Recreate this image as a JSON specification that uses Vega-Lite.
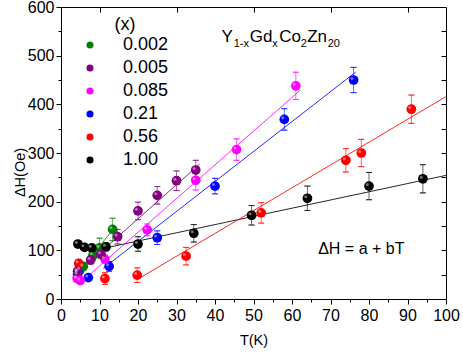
{
  "$schema": "https://vega.github.io/schema/vega-lite/v6.json",
  "width": 385,
  "height": 292,
  "autosize": "none",
  "padding": {"left": 61, "top": 7, "right": 17, "bottom": 57},
  "background": "white",
  "config": {
    "font": "Liberation Sans",
    "view": {"stroke": null},
    "axis": {"grid": false, "domainColor": "black", "tickColor": "black", "labelColor": "black", "titleColor": "black", "labelFont": "Liberation Sans", "titleFont": "Liberation Sans", "labelFontSize": 16, "titleFontSize": 14.5, "titleFontWeight": "normal", "domainWidth": 1, "tickWidth": 1, "labelFlush": false}
  },
  "datasets": {
    "pts": [
      {"x": "0.002", "T": 5.0, "H": 60, "lo": 54, "hi": 66},
      {"x": "0.002", "T": 5.8, "H": 67, "lo": 59, "hi": 75},
      {"x": "0.002", "T": 8.3, "H": 90, "lo": 80, "hi": 100},
      {"x": "0.002", "T": 10.0, "H": 105, "lo": 85, "hi": 125},
      {"x": "0.002", "T": 13.4, "H": 143, "lo": 120, "hi": 166},
      {"x": "1.00", "T": 4.4, "H": 113, "lo": 107, "hi": 119},
      {"x": "1.00", "T": 6.1, "H": 106, "lo": 100, "hi": 112},
      {"x": "1.00", "T": 8.0, "H": 105, "lo": 99, "hi": 111},
      {"x": "1.00", "T": 11.7, "H": 107, "lo": 99, "hi": 115},
      {"x": "1.00", "T": 20.0, "H": 113, "lo": 98, "hi": 128},
      {"x": "1.00", "T": 34.5, "H": 135, "lo": 117, "hi": 153},
      {"x": "1.00", "T": 49.5, "H": 172, "lo": 152, "hi": 192},
      {"x": "1.00", "T": 64.0, "H": 207, "lo": 182, "hi": 232},
      {"x": "1.00", "T": 80.0, "H": 232, "lo": 204, "hi": 260},
      {"x": "1.00", "T": 94.0, "H": 247, "lo": 218, "hi": 276},
      {"x": "0.56", "T": 4.6, "H": 73, "lo": 65, "hi": 81},
      {"x": "0.56", "T": 11.4, "H": 42, "lo": 30, "hi": 54},
      {"x": "0.56", "T": 19.8, "H": 49, "lo": 34, "hi": 64},
      {"x": "0.56", "T": 32.5, "H": 88, "lo": 70, "hi": 106},
      {"x": "0.56", "T": 52.0, "H": 177, "lo": 156, "hi": 198},
      {"x": "0.56", "T": 74.0, "H": 285, "lo": 261, "hi": 309},
      {"x": "0.56", "T": 78.0, "H": 300, "lo": 272, "hi": 328},
      {"x": "0.56", "T": 91.0, "H": 390, "lo": 361, "hi": 419},
      {"x": "0.21", "T": 4.3, "H": 50, "lo": 44, "hi": 56},
      {"x": "0.21", "T": 4.4, "H": 55, "lo": 50, "hi": 60},
      {"x": "0.21", "T": 7.1, "H": 44, "lo": 39, "hi": 49},
      {"x": "0.21", "T": 12.5, "H": 67, "lo": 57, "hi": 77},
      {"x": "0.21", "T": 25.0, "H": 126, "lo": 112, "hi": 140},
      {"x": "0.21", "T": 40.0, "H": 232, "lo": 216, "hi": 248},
      {"x": "0.21", "T": 58.0, "H": 369, "lo": 347, "hi": 391},
      {"x": "0.21", "T": 76.0, "H": 450, "lo": 424, "hi": 476},
      {"x": "0.085", "T": 4.2, "H": 42, "lo": 37, "hi": 47},
      {"x": "0.085", "T": 5.0, "H": 38, "lo": 33, "hi": 43},
      {"x": "0.085", "T": 11.4, "H": 82, "lo": 74, "hi": 90},
      {"x": "0.085", "T": 22.4, "H": 142, "lo": 130, "hi": 154},
      {"x": "0.085", "T": 35.0, "H": 244, "lo": 224, "hi": 264},
      {"x": "0.085", "T": 45.6, "H": 307, "lo": 285, "hi": 329},
      {"x": "0.085", "T": 61.0, "H": 438, "lo": 410, "hi": 466},
      {"x": "0.005", "T": 4.3, "H": 57, "lo": 51, "hi": 63},
      {"x": "0.005", "T": 7.7, "H": 80, "lo": 72, "hi": 88},
      {"x": "0.005", "T": 10.4, "H": 92, "lo": 84, "hi": 100},
      {"x": "0.005", "T": 14.7, "H": 128, "lo": 113, "hi": 143},
      {"x": "0.005", "T": 20.0, "H": 181, "lo": 163, "hi": 199},
      {"x": "0.005", "T": 25.0, "H": 213, "lo": 195, "hi": 231},
      {"x": "0.005", "T": 30.0, "H": 243, "lo": 223, "hi": 263},
      {"x": "0.005", "T": 35.0, "H": 265, "lo": 245, "hi": 285}
    ],
    "fits": [
      {"x": "1.00", "T": 11, "H": 104},
      {"x": "1.00", "T": 100, "H": 254},
      {"x": "0.56", "T": 20, "H": 41},
      {"x": "0.56", "T": 100, "H": 416},
      {"x": "0.085", "T": 5, "H": 33},
      {"x": "0.085", "T": 62, "H": 428},
      {"x": "0.21", "T": 11, "H": 63},
      {"x": "0.21", "T": 76.5, "H": 466},
      {"x": "0.005", "T": 7.5, "H": 77},
      {"x": "0.005", "T": 36, "H": 277},
      {"x": "0.002", "T": 5, "H": 58},
      {"x": "0.002", "T": 14, "H": 148}
    ]
  },
  "layer": [
    {
      "data": {"name": "fits"},
      "mark": {"type": "line", "strokeWidth": 1, "opacity": 0.85},
      "encoding": {
        "x": {"field": "T", "type": "quantitative", "scale": {"domain": [0, 100], "nice": false, "zero": false},
              "axis": {"orient": "bottom", "values": [0,10,20,30,40,50,60,70,80,90,100], "tickSize": 5, "labelPadding": 3, "title": "T(K)", "titlePadding": 10}},
        "y": {"field": "H", "type": "quantitative", "scale": {"domain": [0, 600], "nice": false, "zero": false},
              "axis": {"orient": "left", "values": [0,100,200,300,400,500,600], "tickSize": 5, "labelPadding": 2, "title": "ΔH(Oe)", "titlePadding": 0, "titleY": 165}},
        "detail": {"field": "x"},
        "stroke": {"field": "x", "type": "nominal", "legend": null,
                   "scale": {"range": ["#008000","#800080","#ff00ff","#0000ff","#ff0000","#000000"]}}
      }
    },
    {
      "data": {"name": "pts"},
      "mark": {"type": "rule", "strokeWidth": 1, "opacity": 0.6},
      "encoding": {
        "x": {"field": "T", "type": "quantitative",
              "axis": {"orient": "bottom", "values": [5,15,25,35,45,55,65,75,85,95], "tickSize": 3, "labels": false, "domain": false, "title": null}},
        "y": {"field": "lo", "type": "quantitative",
              "axis": {"orient": "left", "values": [50,150,250,350,450,550], "tickSize": 3, "labels": false, "domain": false, "title": null}},
        "y2": {"field": "hi"},
        "stroke": {"field": "x", "type": "nominal", "legend": null}
      }
    },
    {
      "data": {"name": "pts"},
      "mark": {"type": "tick", "orient": "horizontal", "size": 6, "thickness": 0, "filled": false, "strokeWidth": 1, "opacity": 0.6},
      "encoding": {
        "x": {"field": "T", "type": "quantitative",
              "axis": {"orient": "top", "values": [10,30,50,70,90], "tickSize": -5, "labels": false, "domain": true, "title": null}},
        "y": {"field": "lo", "type": "quantitative",
              "axis": {"orient": "right", "values": [50,100,150,200,250,300,350,400,450,500,550], "tickSize": -5, "labels": false, "domain": true, "title": null}},
        "stroke": {"field": "x", "type": "nominal", "legend": null}
      }
    },
    {
      "data": {"name": "pts"},
      "mark": {"type": "tick", "orient": "horizontal", "size": 6, "thickness": 0, "filled": false, "strokeWidth": 1, "opacity": 0.6},
      "encoding": {
        "x": {"field": "T", "type": "quantitative", "axis": null},
        "y": {"field": "hi", "type": "quantitative", "axis": null},
        "stroke": {"field": "x", "type": "nominal", "legend": null}
      }
    },
    {
      "data": {"name": "pts"},
      "mark": {"type": "point", "filled": true, "opacity": 1, "size": 95},
      "encoding": {
        "x": {"field": "T", "type": "quantitative", "axis": null},
        "y": {"field": "H", "type": "quantitative", "axis": null},
        "fill": {"field": "x", "type": "nominal",
                  "scale": {"domain": ["0.002","0.005","0.085","0.21","0.56","1.00"], "range": ["#008000","#800080","#ff00ff","#0000ff","#ff0000","#000000"]},
                  "legend": {"title": "(x)", "orient": "none", "legendX": 20, "legendY": 9, "direction": "vertical",
                             "titleFontSize": 18, "titleFontWeight": "normal", "titleFont": "Liberation Sans", "titleColor": "black", "titleAnchor": "middle", "titlePadding": 2,
                             "labelFontSize": 18, "labelFont": "Liberation Sans", "labelColor": "black", "labelOffset": 24,
                             "symbolType": "circle", "symbolSize": 50, "symbolStrokeWidth": 0, "rowPadding": 5, "padding": 0}}
      }
    },
    {
      "data": {"name": "pts"},
      "mark": {"type": "point", "filled": true, "color": "white", "opacity": 0.45, "size": 9, "xOffset": -1.6, "yOffset": -1.6},
      "encoding": {
        "x": {"field": "T", "type": "quantitative", "axis": null},
        "y": {"field": "H", "type": "quantitative", "axis": null}
      }
    },
    {
      "data": {"values": [
        {"part": "Y", "T": 41.66, "H": 528.5},
        {"part": "Gd", "T": 49.01, "H": 528.5},
        {"part": "Co", "T": 56.68, "H": 528.5},
        {"part": "Zn", "T": 63.95, "H": 528.5}
      ]},
      "mark": {"type": "text", "align": "left", "baseline": "alphabetic", "fontSize": 17, "font": "Liberation Sans", "color": "black"},
      "encoding": {
        "x": {"field": "T", "type": "quantitative", "axis": null},
        "y": {"field": "H", "type": "quantitative", "axis": null},
        "text": {"field": "part"}
      }
    },
    {
      "data": {"values": [
        {"part": "1-x", "T": 44.86, "H": 518},
        {"part": "x", "T": 54.86, "H": 518},
        {"part": "2", "T": 62.26, "H": 518},
        {"part": "20", "T": 69.27, "H": 518}
      ]},
      "mark": {"type": "text", "align": "left", "baseline": "alphabetic", "fontSize": 11, "font": "Liberation Sans", "color": "black"},
      "encoding": {
        "x": {"field": "T", "type": "quantitative", "axis": null},
        "y": {"field": "H", "type": "quantitative", "axis": null},
        "text": {"field": "part"}
      }
    },
    {
      "data": {"values": [{"label": "ΔH = a + bT", "T": 66.8, "H": 92}]},
      "mark": {"type": "text", "align": "left", "baseline": "alphabetic", "fontSize": 16, "font": "Liberation Sans", "color": "black"},
      "encoding": {
        "x": {"field": "T", "type": "quantitative", "axis": null},
        "y": {"field": "H", "type": "quantitative", "axis": null},
        "text": {"field": "label"}
      }
    }
  ],
  "resolve": {"axis": {"x": "independent", "y": "independent"}}
}
